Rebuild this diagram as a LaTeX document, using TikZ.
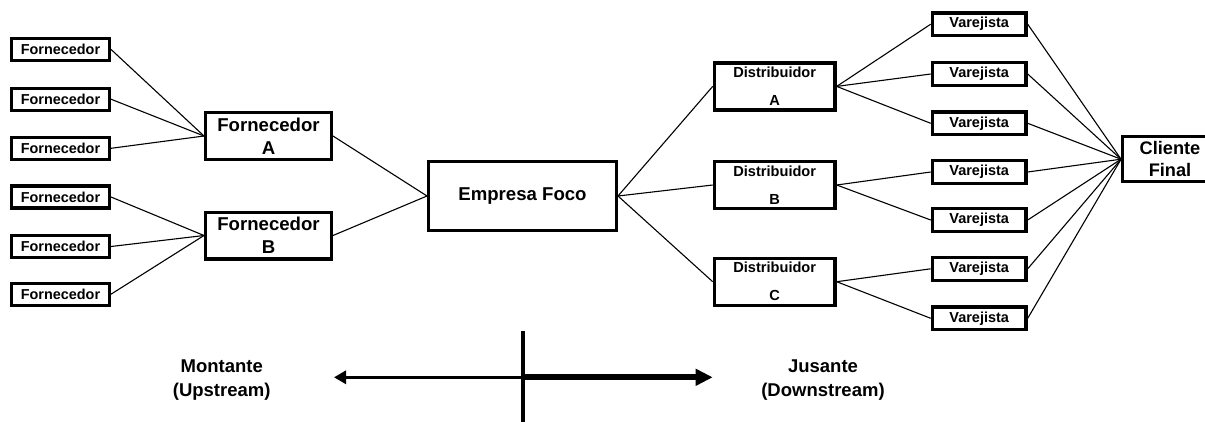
\documentclass[tikz,border=0pt]{standalone}
\usepackage{fontspec}
\setmainfont{Liberation Sans}
\usetikzlibrary{arrows.meta}
\begin{document}
\begin{tikzpicture}[x=1pt,y=-1pt,
  box/.style={draw=black,line width=3.3pt,fill=white,inner sep=0pt,align=center,font=\bfseries},
  smallbox/.style={box,minimum width=97.7pt,minimum height=22pt,font=\fontsize{14.4}{17}\selectfont\bfseries},
  fornbig/.style={box,minimum width=125.7pt,minimum height=46.7pt,font=\fontsize{18.6}{23}\selectfont\bfseries},
  distbox/.style={box,minimum width=120.7pt,minimum height=47pt,font=\fontsize{14.6}{28}\selectfont\bfseries},
  varbox/.style={box,minimum width=93.7pt,minimum height=22.7pt,font=\fontsize{14.5}{17}\selectfont\bfseries},
  link/.style={draw=black,line width=1.1pt},
  label/.style={align=center,inner sep=0pt,font=\fontsize{18.5}{23.7}\selectfont\bfseries}
]
\useasboundingbox (0,0) rectangle (1205,421);
% suppliers
\node[smallbox] (f1) at (60.5,49.4) {Fornecedor};
\node[smallbox] (f2) at (60.5,99.2) {Fornecedor};
\node[smallbox] (f3) at (60.5,148.3) {Fornecedor};
\node[smallbox] (f4) at (60.5,197) {Fornecedor};
\node[smallbox] (f5) at (60.5,246.5) {Fornecedor};
\node[smallbox] (f6) at (60.5,294.2) {Fornecedor};
\node[fornbig] (fA) at (268.5,136) {Fornecedor\\A};
\node[fornbig] (fB) at (268.5,235.5) {Fornecedor\\B};
\node[box,minimum width=187.7pt,minimum height=68.7pt,font=\fontsize{18.6}{22}\selectfont\bfseries] (emp) at (522.5,196) {Empresa Foco};
\node[distbox] (dA) at (774.7,86.4) {Distribuidor\\A};
\node[distbox] (dB) at (774.7,185) {Distribuidor\\B};
\node[distbox] (dC) at (774.7,281.7) {Distribuidor\\C};
\node[varbox] (v1) at (979.2,24.2) {Varejista};
\node[varbox] (v2) at (979.2,74) {Varejista};
\node[varbox] (v3) at (979.2,123.3) {Varejista};
\node[varbox] (v4) at (979.2,172) {Varejista};
\node[varbox] (v5) at (979.2,220) {Varejista};
\node[varbox] (v6) at (979.2,268.8) {Varejista};
\node[varbox] (v7) at (979.2,318.3) {Varejista};
\node[box,minimum width=94.6pt,minimum height=45pt,font=\fontsize{18.2}{22.4}\selectfont\bfseries] (cli) at (1170,159.2) {Cliente\\Final};
% connectors
\foreach \n in {f1,f2,f3} \draw[link] (\n.east) -- (fA.west);
\foreach \n in {f4,f5,f6} \draw[link] (\n.east) -- (fB.west);
\draw[link] (fA.east) -- (emp.west);
\draw[link] (fB.east) -- (emp.west);
\foreach \n in {dA,dB,dC} \draw[link] (emp.east) -- (\n.west);
\foreach \n in {v1,v2,v3} \draw[link] (dA.east) -- (\n.west);
\foreach \n in {v4,v5} \draw[link] (dB.east) -- (\n.west);
\foreach \n in {v6,v7} \draw[link] (dC.east) -- (\n.west);
\foreach \n in {v1,v2,v3,v4,v5,v6,v7} \draw[link] (\n.east) -- (cli.west);
% bottom axis
\coordinate (mid) at (523.3,377.3);
\coordinate (lt) at (334,377.3);
\coordinate (rt) at (712.7,377.3);
\coordinate (vt) at (523.3,331);
\coordinate (vb) at (523.3,425);
\draw[line width=3.3pt,-{Triangle[length=12pt,width=13pt]}] (mid) -- (lt);
\draw[line width=6pt,-{Triangle[length=17pt,width=16pt]}] (mid) -- (rt);
\draw[line width=4pt] (vt) -- (vb);
\node[label] (mont) at (221.7,380) {Montante\\(Upstream)};
\node[label] (jus) at (823,380) {Jusante\\(Downstream)};
\end{tikzpicture}
\end{document}
